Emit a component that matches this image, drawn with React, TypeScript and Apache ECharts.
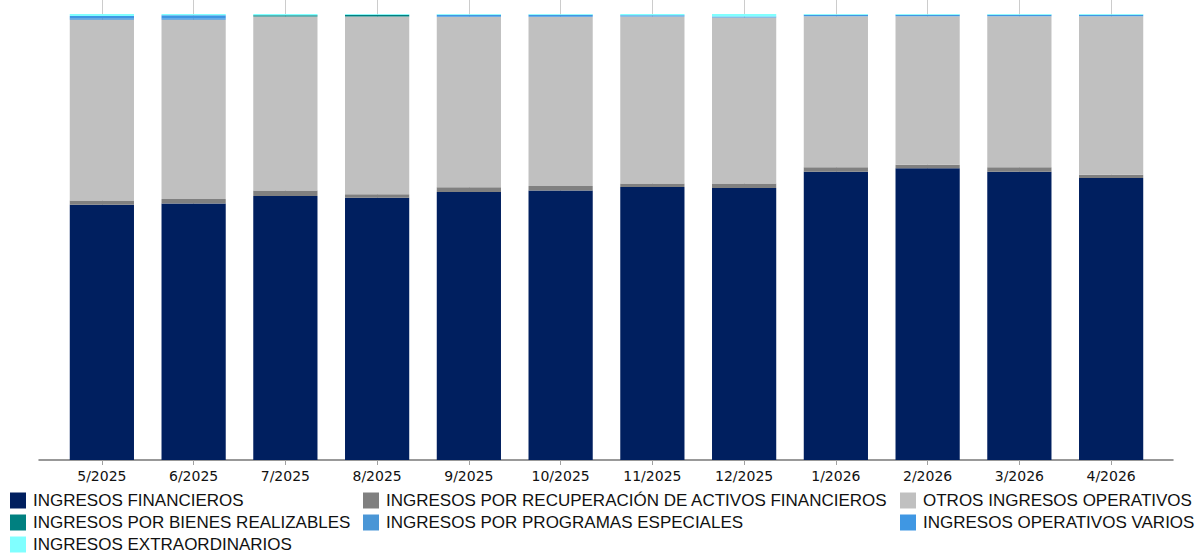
import React, { useEffect, useRef } from "react";
import * as echarts from "echarts";

const categories = ["5/2025", "6/2025", "7/2025", "8/2025", "9/2025", "10/2025", "11/2025", "12/2025", "1/2026", "2/2026", "3/2026", "4/2026"];

const seriesNames = [
  "INGRESOS FINANCIEROS",
  "INGRESOS POR RECUPERACIÓN DE ACTIVOS FINANCIEROS",
  "OTROS INGRESOS OPERATIVOS",
  "INGRESOS POR BIENES REALIZABLES",
  "INGRESOS POR PROGRAMAS ESPECIALES",
  "INGRESOS OPERATIVOS VARIOS",
  "INGRESOS EXTRAORDINARIOS",
];

const colors = ["#001f5f", "#808080", "#c0c0c0", "#008080", "#4a96d6", "#3f97e3", "#80ffff"];

// percentage share of total per month
const financieros = [57.2, 57.5, 59.2, 58.8, 60.1, 60.4, 61.2, 61.0, 64.6, 65.4, 64.6, 63.2];
const recuperacion = [1.0, 1.0, 1.2, 0.8, 1.05, 1.05, 0.8, 1.0, 1.05, 0.8, 1.05, 0.75];
const otrosOperativos = [40.5, 40.2, 39.0, 39.8, 38.2, 37.9, 37.4, 37.2, 33.85, 33.3, 33.85, 35.55];
const bienesRealizables = [0, 0, 0.3, 0.4, 0, 0, 0, 0, 0, 0, 0, 0];
const programasEspeciales = [0.35, 0.2, 0, 0, 0, 0, 0, 0, 0, 0, 0, 0];
const operativosVarios = [0.5, 0.8, 0, 0, 0.45, 0.45, 0.3, 0.2, 0.3, 0.3, 0.3, 0.3];
const extraordinarios = [0.45, 0.3, 0.3, 0.2, 0.2, 0.2, 0.3, 0.6, 0.2, 0.2, 0.2, 0.2];

const seriesData = [financieros, recuperacion, otrosOperativos, bienesRealizables, programasEspeciales, operativosVarios, extraordinarios];

const legendCells = [
  { left: 10, top: 492, name: seriesNames[0] },
  { left: 363, top: 492, name: seriesNames[1] },
  { left: 900, top: 492, name: seriesNames[2] },
  { left: 10, top: 514, name: seriesNames[3] },
  { left: 363, top: 514, name: seriesNames[4] },
  { left: 900, top: 514, name: seriesNames[5] },
  { left: 10, top: 536, name: seriesNames[6] },
];

export default function App() {
  const ref = useRef<HTMLDivElement>(null);
  useEffect(() => {
    if (!ref.current) return;
    const chart = echarts.init(ref.current, null, { renderer: "svg" });
    const font = "'Liberation Sans', Arial, sans-serif";
    chart.setOption({
      animation: false,
      color: colors,
      grid: [
        { left: 56, right: 42, top: 5, bottom: 93 },
        { left: 39, right: 26, top: 5, bottom: 93 },
      ],
      legend: legendCells.map((c) => ({
        orient: "horizontal",
        left: c.left,
        top: c.top,
        data: [c.name],
        icon: "rect",
        itemWidth: 16,
        itemHeight: 16,
        padding: 0,
        selectedMode: false,
        textStyle: { fontFamily: font, fontSize: 17, lineHeight: 17, color: "#111", padding: [0, 0, 0, 2] },
      })),
      xAxis: [
        {
          type: "category",
          gridIndex: 0,
          data: categories,
          axisLine: { show: false },
          axisTick: { show: true, alignWithLabel: true, length: 5, lineStyle: { color: "#a0a0a0" } },
          axisLabel: { fontFamily: "'DejaVu Sans', sans-serif", fontSize: 14, color: "#111", margin: 9 },
        },
        {
          type: "category",
          gridIndex: 0,
          position: "bottom",
          data: categories,
          axisLine: { show: false },
          axisTick: { show: true, inside: true, alignWithLabel: true, length: 460, lineStyle: { color: "#cccccc" } },
          axisLabel: { show: false },
        },
        {
          type: "value",
          gridIndex: 1,
          min: 0,
          max: 1,
          axisLine: { show: true, lineStyle: { color: "#777", width: 1.5 } },
          axisTick: { show: false },
          axisLabel: { show: false },
          splitLine: { show: false },
        },
      ],
      yAxis: [
        { type: "value", gridIndex: 0, min: 0, max: 102, show: false, splitLine: { show: false } },
        { type: "value", gridIndex: 1, min: 0, max: 1, show: false, splitLine: { show: false } },
      ],
      series: seriesNames.map((name, i) => ({
        name,
        type: "bar",
        stack: "total",
        xAxisIndex: 0,
        yAxisIndex: 0,
        barWidth: "70%",
        data: seriesData[i],
        itemStyle: { color: colors[i] },
      })),
    });
    return () => chart.dispose();
  }, []);
  return <div ref={ref} style={{ width: 1199, height: 553, position: "absolute", left: 0, top: 0 }} />;
}
